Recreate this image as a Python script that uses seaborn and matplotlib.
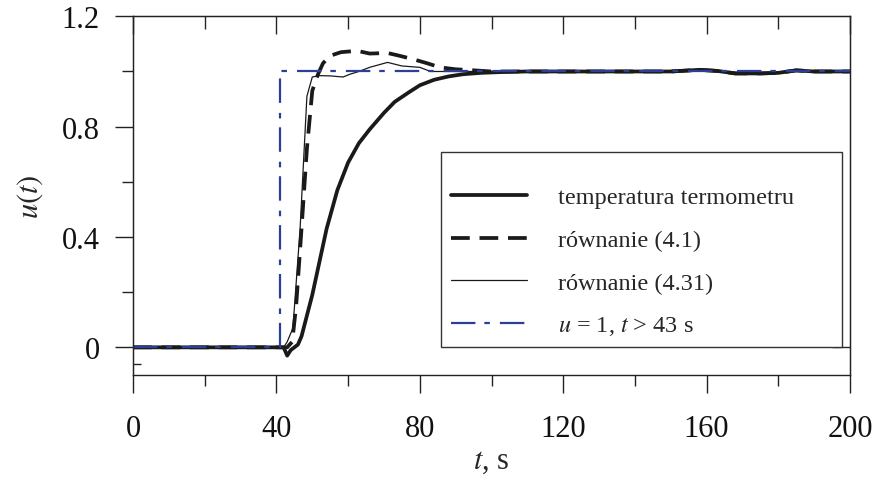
import matplotlib
matplotlib.use("Agg")
import matplotlib.pyplot as plt
import seaborn as sns

# step input
t_step = [0, 41, 41, 200]
u_step = [0, 0, 1, 1]

# thermometer temperature
t_temp = [0, 20, 40, 42, 43, 44, 45, 46, 47, 48, 50, 52, 54, 57, 60, 63, 66, 70, 73, 77, 80,
          84, 88, 92, 97, 103, 110, 120, 130, 140, 150, 158, 163, 168, 175, 180, 185, 190, 200]
u_temp = [0, 0, 0, 0.0, -0.03, -0.01, 0.0, 0.01, 0.04, 0.09, 0.19, 0.31, 0.43, 0.57, 0.67,
          0.74, 0.79, 0.85, 0.89, 0.925, 0.95, 0.97, 0.982, 0.99, 0.995, 0.998, 1.0, 1.0,
          1.0, 1.0, 1.0, 1.006, 1.002, 0.993, 0.993, 0.995, 1.004, 1.0, 1.0]

# rownanie (4.1)
t_41 = [0, 20, 40, 43, 44.4, 45.5, 47, 48.5, 50, 51.6, 53, 55, 58, 62.5, 66, 71, 74, 78,
        82, 85.6, 90, 94, 100, 110, 120, 130, 140, 150, 158, 163, 168, 175, 180, 185, 190, 200]
u_41 = [0, 0, 0, 0, 0.02, 0.15, 0.43, 0.72, 0.93, 0.99, 1.03, 1.057, 1.07, 1.075, 1.065,
        1.067, 1.058, 1.045, 1.03, 1.015, 1.008, 1.005, 1.0, 1.0, 1.0, 1.0, 1.0, 1.0, 1.006,
        1.002, 0.993, 0.993, 0.995, 1.004, 1.0, 1.0]

# rownanie (4.31)
t_431 = [0, 20, 40, 42, 43, 44.6, 46.6, 48.5, 50, 52, 55, 58.6, 60.5, 63, 66, 71, 75, 80,
         83, 90, 100, 120, 140, 158, 163, 168, 175, 185, 200]
u_431 = [0, 0, 0, 0, 0.02, 0.07, 0.43, 0.91, 0.98, 0.985, 0.984, 0.98, 0.99, 1.0, 1.015,
         1.033, 1.02, 1.015, 1.0, 1.0, 1.0, 1.0, 1.0, 1.006, 1.002, 0.993, 0.993, 1.004, 1.0]

x_major = [0, 40, 80, 120, 160, 200]
x_minor = [20, 60, 100, 140, 180]
y_major = [0, 0.4, 0.8, 1.2]
y_labels = ["0", "0.4", "0.8", "1.2"]
y_minor = [0.2, 0.6, 1.0]

sns.set_style("white")
plt.rcParams["font.family"] = ["Liberation Serif", "DejaVu Serif"]
plt.rcParams["mathtext.fontset"] = "stix"

blk = "#1a1a1a"
blue = "#2b3f99"

fig = plt.figure(figsize=(8.77, 4.85), dpi=100)
ax = fig.add_axes([0.1517, 0.2249, 0.8175, 0.7394])

sns.lineplot(x=t_temp, y=u_temp, ax=ax, color=blk, lw=2.7, sort=False, estimator=None,
             label="temperatura termometru")
sns.lineplot(x=t_41, y=u_41, ax=ax, color=blk, lw=2.7, sort=False, estimator=None,
             linestyle=(0, (5, 2.6)), label="równanie (4.1)")
sns.lineplot(x=t_431, y=u_431, ax=ax, color=blk, lw=0.9, sort=False, estimator=None,
             label="równanie (4.31)")
sns.lineplot(x=t_step, y=u_step, ax=ax, color=blue, lw=1.6, sort=False, estimator=None,
             linestyle=(0, (11, 4, 2.5, 4.5)), label=r"$u$ = 1, $t$ > 43 s")

ax.set_xlim(0, 200)
ax.set_ylim(-0.1, 1.2)
ax.set_xticks(x_major)
ax.set_xticks(x_minor, minor=True)
ax.set_yticks(y_major)
ax.set_yticklabels(y_labels)
ax.set_yticks(y_minor, minor=True)

for s in ax.spines.values():
    s.set_visible(True)
    s.set_color("#222222")
    s.set_linewidth(1.0)

ax.tick_params(axis="both", which="major", direction="out", length=13, width=1.0,
               color="#222222", labelsize=22, labelcolor="#111111")
ax.tick_params(axis="x", which="major", pad=15)
ax.tick_params(axis="y", which="major", pad=11)
ax.tick_params(axis="both", which="minor", direction="out", length=8, width=1.0,
               color="#222222")
ax.tick_params(axis="x", top=False, bottom=True, which="both")
ax.tick_params(axis="y", left=True, right=False, which="both")

# inward ticks on top
top = ax.secondary_xaxis("top")
top.set_xticks(x_major)
top.set_xticks(x_minor, minor=True)
top.tick_params(which="major", direction="in", length=13, width=1.0, labeltop=False)
top.tick_params(which="minor", direction="in", length=9, width=1.0)
top.spines["top"].set_color("#222222")

right = ax.secondary_yaxis("right")
right.set_yticks([0])
right.tick_params(direction="in", length=13, width=1.0, labelright=False)
right.spines["right"].set_color("#222222")

left_in = ax.secondary_yaxis("left")
left_in.set_yticks([-0.06])
left_in.tick_params(direction="in", length=6, width=1.0, labelleft=False)

ax.set_xlabel(r"$t$, s", fontsize=22, labelpad=2)
ax.set_ylabel(r"$u(t)$", fontsize=22, labelpad=12)

leg = ax.legend(loc="upper left", bbox_to_anchor=(0.4296, 0.075, 0.5593, 0.5466),
                mode="expand", fontsize=17.5, title=" ", title_fontsize=3,
                frameon=True, fancybox=False, framealpha=1, edgecolor="#333333",
                handlelength=3.15, handletextpad=1.25, labelspacing=0.85, borderpad=0.4,
                borderaxespad=0)
leg.get_frame().set_linewidth(1.0)

fig.savefig("out.png", dpi=100)
